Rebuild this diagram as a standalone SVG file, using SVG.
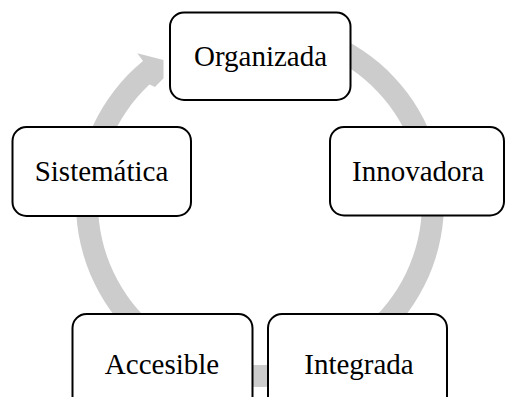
<svg xmlns="http://www.w3.org/2000/svg" width="505" height="397" viewBox="0 0 505 397">
<style>
.box{fill:#ffffff;stroke:#000000;stroke-width:2}
.lbl{font-family:"Liberation Serif","Times New Roman",serif;font-size:29px;fill:#000000;text-anchor:middle}
.arrow{fill:#cccccc;stroke:none}
</style>
<rect x="0" y="0" width="505" height="397" fill="#ffffff"/>
<g id="connectors">
<path class="arrow" d="M307.6,25.3 A184,184 0 1 1 143,61 L137.3,53.3 L163.5,60.1 L163.5,78.3 L155,87 L149.5,84.5 A162,162 0 1 0 301.9,46.5 Z"/>
</g>
<g id="node-organizada">
<rect class="box" x="170" y="12.5" width="180.5" height="87.5" rx="14" ry="14"/>
<text class="lbl" x="260.5" y="65.5">Organizada</text>
</g>
<g id="node-innovadora">
<rect class="box" x="330" y="127" width="174" height="88.5" rx="14" ry="14"/>
<text class="lbl" x="418" y="180.5">Innovadora</text>
</g>
<g id="node-integrada">
<rect class="box" x="268" y="314" width="179" height="100" rx="14" ry="14"/>
<text class="lbl" x="359" y="374">Integrada</text>
</g>
<g id="node-accesible">
<rect class="box" x="72.5" y="314" width="180" height="100" rx="14" ry="14"/>
<text class="lbl" x="162" y="374">Accesible</text>
</g>
<g id="node-sistematica">
<rect class="box" x="12.5" y="127" width="178.5" height="89" rx="14" ry="14"/>
<text class="lbl" x="101.5" y="180.5">Sistemática</text>
</g>
</svg>
